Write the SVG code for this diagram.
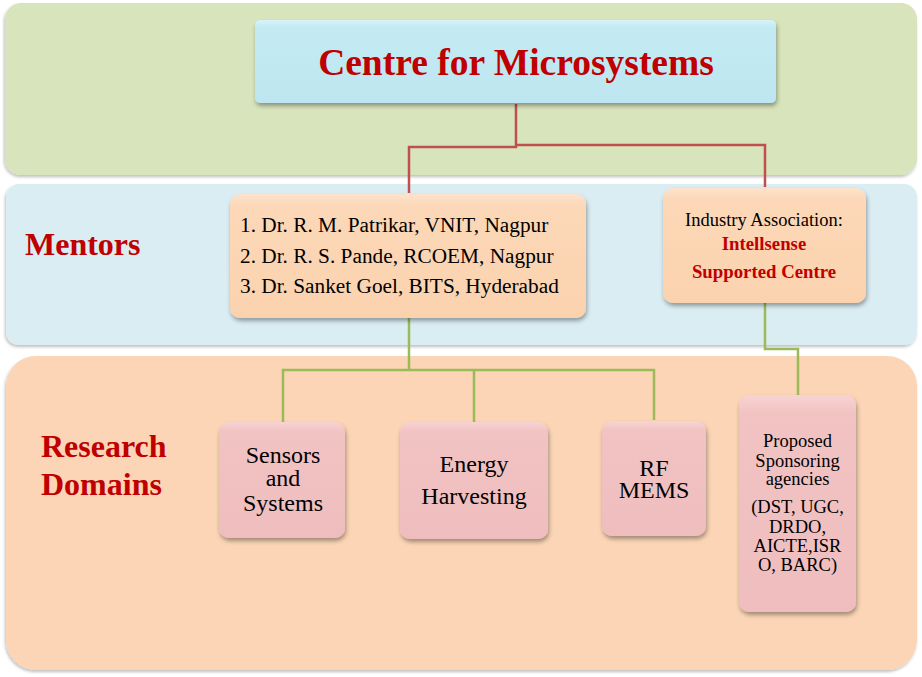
<svg xmlns="http://www.w3.org/2000/svg" width="922" height="677" viewBox="0 0 922 677">
<defs>
<filter id="sh" x="-10%" y="-10%" width="125%" height="130%">
<feDropShadow dx="1" dy="3" stdDeviation="2" flood-color="#000" flood-opacity="0.35"/>
</filter>
<filter id="bsh" x="-5%" y="-5%" width="110%" height="115%">
<feDropShadow dx="-1" dy="2" stdDeviation="1.5" flood-color="#000" flood-opacity="0.25"/>
</filter>
<linearGradient id="gCyan" x1="0" y1="0" x2="0" y2="1">
<stop offset="0" stop-color="#d8f3f9"/><stop offset="0.08" stop-color="#c4ebf4"/><stop offset="1" stop-color="#bde6f0"/>
</linearGradient>
<linearGradient id="gPeach" x1="0" y1="0" x2="0" y2="1">
<stop offset="0" stop-color="#fde3cc"/><stop offset="0.1" stop-color="#fcd8b8"/><stop offset="1" stop-color="#fbd2ae"/>
</linearGradient>
<linearGradient id="gPink" x1="0" y1="0" x2="0" y2="1">
<stop offset="0" stop-color="#f8d3d3"/><stop offset="0.08" stop-color="#f2c3c3"/><stop offset="1" stop-color="#efbdbe"/>
</linearGradient>
<style>
.band{filter:url(#bsh);}
.box{filter:url(#sh);}
text{font-family:'Liberation Serif','DejaVu Serif',serif;}
.lbl{font-weight:bold;fill:#c00000;}
.t{fill:#000;}
.red{fill:none;stroke:#c0504d;stroke-width:2.5;}
.grn{fill:none;stroke:#9bbb59;stroke-width:2.5;}
</style>
</defs>
<rect width="922" height="677" fill="#ffffff"/>
<g id="band-top"><rect class="band" x="5" y="3" width="912" height="172" rx="16" fill="#d8e4bc"/></g>
<g id="band-mentors"><rect class="band" x="6" y="184" width="911" height="161" rx="13" fill="#daedf3"/>
<text class="lbl" x="25" y="255" font-size="32">Mentors</text></g>
<g id="band-research"><rect class="band" x="6" y="356" width="911" height="314" rx="30" fill="#fbd5b5"/>
<text class="lbl" x="41" y="457" font-size="32">Research</text>
<text class="lbl" x="41" y="495" font-size="32">Domains</text></g>
<g id="connectors">
<polyline class="red" points="516,104 516,147 409,147 409,193"/>
<polyline class="red" points="516,145 765,145 765,187"/>
<polyline class="grn" points="409,318 409,370"/>
<polyline class="grn" points="283,422 283,370 654,370 654,420"/>
<polyline class="grn" points="474,370 474,422"/>
<polyline class="grn" points="765,303 765,349 798,349 798,395"/>
</g>
<g id="centre"><rect class="box" x="255" y="20" width="521" height="83" rx="5" fill="url(#gCyan)"/>
<text class="lbl" x="516" y="75" font-size="37.5" text-anchor="middle">Centre for Microsystems</text></g>
<g id="mentors"><rect class="box" x="230" y="194" width="356" height="124" rx="10" fill="url(#gPeach)"/>
<text class="t" x="240" y="232" font-size="21.3">1. Dr. R. M. Patrikar, VNIT, Nagpur</text>
<text class="t" x="240" y="263" font-size="21.3">2. Dr. R. S. Pande, RCOEM, Nagpur</text>
<text class="t" x="240" y="293" font-size="21.3">3. Dr. Sanket Goel, BITS, Hyderabad</text></g>
<g id="industry"><rect class="box" x="663" y="188" width="203" height="115" rx="10" fill="url(#gPeach)"/>
<text class="t" x="764" y="226" font-size="18.5" text-anchor="middle">Industry Association:</text>
<text class="lbl" x="764" y="250" font-size="18.8" text-anchor="middle">Intellsense</text>
<text class="lbl" x="764" y="278" font-size="18.8" text-anchor="middle">Supported Centre</text></g>
<g id="sensors"><rect class="box" x="219" y="422" width="126" height="116" rx="10" fill="url(#gPink)"/>
<text class="t" x="283" y="463" font-size="24" text-anchor="middle">Sensors</text>
<text class="t" x="283" y="486" font-size="24" text-anchor="middle">and</text>
<text class="t" x="283" y="511" font-size="24" text-anchor="middle">Systems</text></g>
<g id="energy"><rect class="box" x="400" y="422" width="148" height="117" rx="10" fill="url(#gPink)"/>
<text class="t" x="474" y="472" font-size="24" text-anchor="middle">Energy</text>
<text class="t" x="474" y="504" font-size="24" text-anchor="middle">Harvesting</text></g>
<g id="rfmems"><rect class="box" x="602" y="421" width="104" height="115" rx="10" fill="url(#gPink)"/>
<text class="t" x="654" y="476" font-size="24" text-anchor="middle">RF</text>
<text class="t" x="654" y="498" font-size="24" text-anchor="middle">MEMS</text></g>
<g id="sponsors"><rect class="box" x="739" y="395" width="117" height="217" rx="10" fill="url(#gPink)"/>
<g class="t" font-size="18.5" text-anchor="middle">
<text x="797.5" y="447">Proposed</text>
<text x="797.5" y="466.5">Sponsoring</text>
<text x="797.5" y="485">agencies</text>
<text x="797.5" y="513">(DST, UGC,</text>
<text x="797.5" y="532.5">DRDO,</text>
<text x="797.5" y="552">AICTE,ISR</text>
<text x="797.5" y="571">O, BARC)</text>
</g></g>
</svg>
